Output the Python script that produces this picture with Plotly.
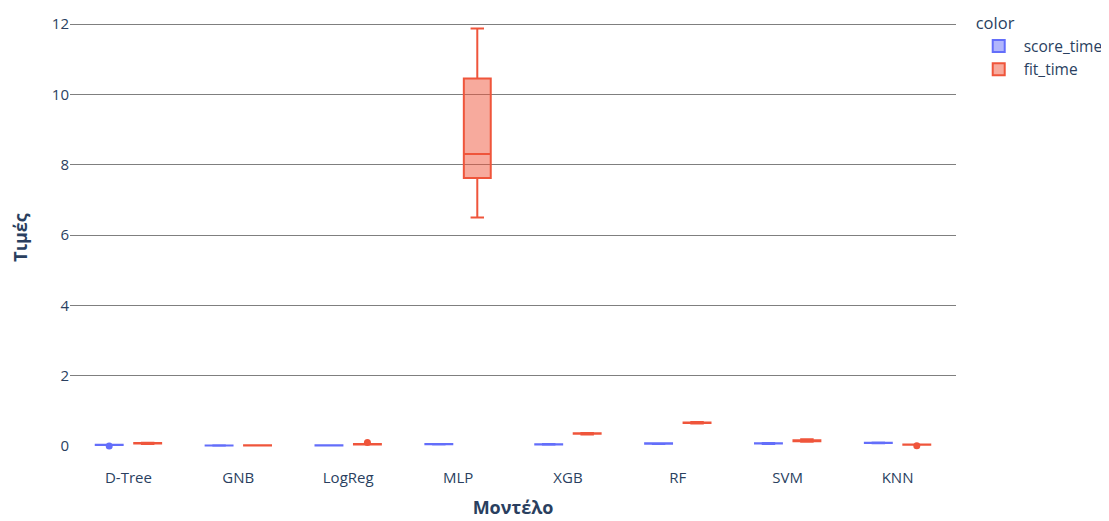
import plotly.graph_objects as go

models = ["D-Tree", "GNB", "LogReg", "MLP", "XGB", "RF", "SVM", "KNN"]

score_dtree = [0.0, 0.03, 0.032, 0.035, 0.036]
score_gnb = [0.01, 0.012, 0.015, 0.017, 0.02]
score_logreg = [0.012, 0.015, 0.018, 0.02, 0.022]
score_mlp = [0.045, 0.05, 0.052, 0.055, 0.058]
score_xgb = [0.035, 0.04, 0.045, 0.05, 0.055]
score_rf = [0.06, 0.065, 0.07, 0.075, 0.08]
score_svm = [0.06, 0.068, 0.072, 0.077, 0.082]
score_knn = [0.08, 0.085, 0.09, 0.095, 0.1]

fit_dtree = [0.06, 0.07, 0.075, 0.085, 0.09]
fit_gnb = [0.012, 0.015, 0.018, 0.02, 0.022]
fit_logreg = [0.04, 0.045, 0.05, 0.055, 0.1]
fit_mlp = [6.5, 7.62, 8.3, 10.45, 11.87]
fit_xgb = [0.33, 0.345, 0.355, 0.36, 0.37]
fit_rf = [0.64, 0.655, 0.665, 0.67, 0.68]
fit_svm = [0.12, 0.135, 0.15, 0.165, 0.19]
fit_knn = [0.005, 0.035, 0.04, 0.042, 0.045]

score_all = [score_dtree, score_gnb, score_logreg, score_mlp, score_xgb, score_rf, score_svm, score_knn]
fit_all = [fit_dtree, fit_gnb, fit_logreg, fit_mlp, fit_xgb, fit_rf, fit_svm, fit_knn]


def flatten(groups):
    xs, ys = [], []
    for m, vals in zip(models, groups):
        for v in vals:
            xs.append(m)
            ys.append(v)
    return xs, ys


fig = go.Figure()
for name, groups, color in [("score_time", score_all, "#636efa"), ("fit_time", fit_all, "#EF553B")]:
    xs, ys = flatten(groups)
    fig.add_trace(go.Box(x=xs, y=ys, name=name, marker_color=color,
                         marker_size=7,
                         alignmentgroup="True", offsetgroup=name, legendgroup=name,
                         boxpoints="outliers", quartilemethod="inclusive"))

fig.update_layout(
    template="plotly",
    width=1101, height=513,
    boxmode="group",
    plot_bgcolor="white",
    paper_bgcolor="white",
    font=dict(family="Open Sans", size=15, color="#2a3f5f"),
    margin=dict(l=62, r=153, t=0, b=54, autoexpand=False),
    legend=dict(title=dict(text="color", font=dict(size=16.5)), font=dict(size=15.5),
                tracegroupgap=0, itemwidth=40, x=1.02, y=1.0, yanchor="top"),
    xaxis=dict(title=dict(text="<b>Μοντέλο</b>"), categoryorder="array", categoryarray=models),
    yaxis=dict(title=dict(text="<b>Τιμές</b>", standoff=34), automargin=True,
               gridcolor="#7f7f7f",
               zerolinecolor="white", zerolinewidth=2,
               range=[-0.597, 12.455]),
)

fig.write_html("out.html")
